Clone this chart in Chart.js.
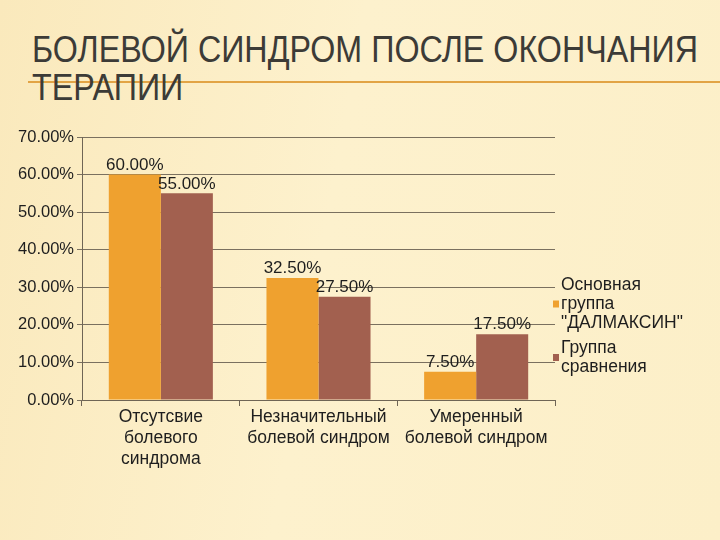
<!DOCTYPE html>
<html><head><meta charset="utf-8">
<script src="https://cdn.jsdelivr.net/npm/chart.js@4/dist/chart.umd.min.js"></script>
<style>
html,body{margin:0;padding:0;width:720px;height:540px;overflow:hidden;}
body{background:linear-gradient(100deg,#FAE9BC 0%,#FDF1CD 45%,#FCEFC8 100%);position:relative;font-family:"Liberation Sans",Arial,sans-serif;}
.tl{position:absolute;left:32px;font-family:"Liberation Sans",Arial,sans-serif;font-size:36px;line-height:36px;color:#3c3b37;white-space:nowrap;transform-origin:0 0;}
#t1{top:32px;} #t2{top:70px;}
#rule{position:absolute;left:28px;top:81px;width:692px;height:2px;background:#E2A445;}
#c{position:absolute;left:0;top:0;}
</style></head>
<body>
<div id="rule"></div>
<span class="tl" id="t1">БОЛЕВОЙ СИНДРОМ ПОСЛЕ ОКОНЧАНИЯ</span>
<span class="tl" id="t2">ТЕРАПИИ</span>
<canvas id="c" width="720" height="540"></canvas>
<script>
const categories = [["Отсутсвие","болевого","синдрома"],["Незначительный","болевой синдром"],["Умеренный","болевой синдром"]];
const seriesNames = ['Основная группа "ДАЛМАКСИН"','Группа сравнения'];
const legendLines = [["Основная","группа","\"ДАЛМАКСИН\""],["Группа","сравнения"]];
const mainGroup = [60.0, 32.5, 7.5];
const compGroup = [55.0, 27.5, 17.5];
const yTicks = [0,10,20,30,40,50,60,70];

// fit title width
(function(){
  const t1=document.getElementById('t1'), t2=document.getElementById('t2');
  const w=t1.getBoundingClientRect().width;
  const s=666/w;
  t1.style.transform='scaleX('+s+')';
  t2.style.transform='scaleX('+s+')';
})();

const fmt = v => v.toFixed(2) + '%';
const FONT = '"Liberation Sans", Arial, sans-serif';

const valueLabels = {
  id:'valueLabels',
  afterDatasetsDraw(chart){
    const ctx = chart.ctx;
    ctx.save();
    ctx.font = '17px ' + FONT;
    ctx.fillStyle = '#1e1e1e';
    ctx.textAlign = 'center';
    ctx.textBaseline = 'bottom';
    chart.data.datasets.forEach((ds,i)=>{
      chart.getDatasetMeta(i).data.forEach((bar,j)=>{
        ctx.fillText(fmt(ds.data[j]), bar.x, bar.y - 1);
      });
    });
    ctx.restore();
  }
};

const sideLegend = {
  id:'sideLegend',
  afterDraw(chart){
    const ctx = chart.ctx;
    ctx.save();
    ctx.font = '17.5px ' + FONT;
    ctx.textBaseline = 'middle';
    ctx.textAlign = 'left';
    const x0 = chart.chartArea.right - 2;
    let y = 285;
    const lh = 19;
    legendLines.forEach((lines,i)=>{
      const ds = chart.data.datasets[i];
      const mid = y + (lines.length-1)*lh/2;
      ctx.fillStyle = ds.backgroundColor;
      ctx.fillRect(x0, mid-3.5, 6, 7);
      ctx.fillStyle = '#1e1e1e';
      lines.forEach((t,k)=>ctx.fillText(t, x0+8, y + k*lh));
      y += lines.length*lh + 6;
    });
    ctx.restore();
  }
};

new Chart(document.getElementById('c'),{
  type:'bar',
  data:{
    labels:categories,
    datasets:[
      {label:seriesNames[0],data:mainGroup,backgroundColor:'#EFA12F',borderWidth:0},
      {label:seriesNames[1],data:compGroup,backgroundColor:'#A2604F',borderWidth:0}
    ]
  },
  options:{
    responsive:false,animation:false,
    layout:{padding:{left:0,top:137,right:165,bottom:70}},
    plugins:{legend:{display:false},tooltip:{enabled:false}},
    datasets:{bar:{categoryPercentage:0.66,barPercentage:1.0}},
    scales:{
      x:{
        afterFit(s){s.height=70;},
        grid:{offset:true,drawOnChartArea:false,color:'#6f6555',tickLength:6,lineWidth:1},
        border:{color:'#6f6555',width:1},
        ticks:{color:'#1e1e1e',font:{size:17.5,family:FONT,lineHeight:1.2},padding:1,maxRotation:0,autoSkip:false}
      },
      y:{
        min:0,max:70,
        afterFit(s){s.width=82;},
        afterBuildTicks(s){s.ticks=yTicks.map(v=>({value:v}));},
        grid:{color:'#7a705f',lineWidth:1,tickLength:5},
        border:{color:'#6f6555',width:1},
        ticks:{color:'#1e1e1e',font:{size:16.5,family:FONT},padding:3,callback:v=>fmt(v)}
      }
    }
  },
  plugins:[valueLabels,sideLegend]
});
</script>
</body></html>
